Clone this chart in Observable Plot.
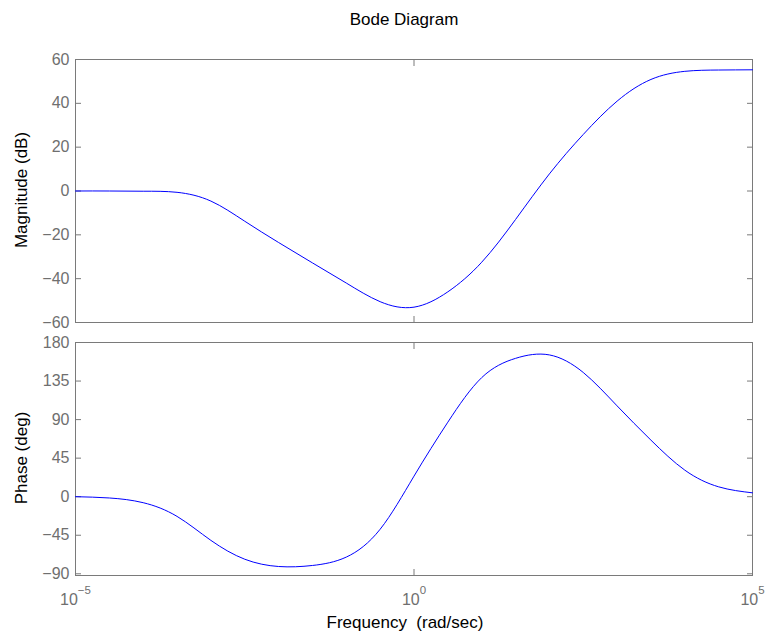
<!DOCTYPE html>
<html>
<head>
<meta charset="utf-8">
<script src="https://cdn.jsdelivr.net/npm/d3@7"></script>
<script src="https://cdn.jsdelivr.net/npm/@observablehq/plot@0.6"></script>
<style>
  html, body { margin: 0; padding: 0; background: #fff; }
  #fig { position: relative; width: 767px; height: 634px; background: #fff; overflow: hidden;
         font-family: "Liberation Sans", Arial, Helvetica, sans-serif; }
  .lbl { position: absolute; font-size: 17px; line-height: 17px; color: #000; white-space: pre; }
  .panel { position: absolute; left: 0; }
</style>
</head>
<body>
<div id="fig">
  <div class="lbl" id="title" style="left:0;width:808px;text-align:center;top:11px;">Bode Diagram</div>
  <div class="panel" id="topPanel" style="top:49px;"></div>
  <div class="panel" id="botPanel" style="top:332px;"></div>
  <div class="lbl" style="left:21px;top:190px;transform:translate(-50%,-50%) rotate(-90deg);">Magnitude (dB)</div>
  <div class="lbl" style="left:21px;top:458px;transform:translate(-50%,-50%) rotate(-90deg);">Phase (deg)</div>
  <div class="lbl" style="left:0;width:810px;text-align:center;top:614px;">Frequency  (rad/sec)</div>
</div>
<script>
// ---- data ----
// frequency as log10(rad/sec), sampled every half decade
const magLogW = [-5, -4.5, -4, -3.5, -3, -2.5, -2, -1.5, -1, -0.5, 0, 0.5, 1, 1.5, 2, 2.5, 3, 3.5, 4, 4.5, 5];
const magDb   = [0, 0, -0.1, -0.6, -4.6, -13.8, -23.5, -32.8, -42, -50.5, -53, -46, -32.5, -13, 7.8, 25.8, 41, 50.9, 54.6, 55.2, 55.3];

const phLogW = [-5, -4.5, -4, -3.5, -3, -2.5, -2, -1.5, -1, -0.5, 0, 0.5, 1, 1.5, 2, 2.5, 3, 3.5, 4, 4.5, 5];
const phDeg  = [0, -1.5, -7, -23, -51, -73, -81.5, -80.3, -70.5, -38, 24, 87, 139, 161.5, 165.5, 145, 106, 66, 31, 11.5, 4.5];

const xTickExp  = [-5, 0, 5];
const magTicks  = [-60, -40, -20, 0, 20, 40, 60];
const magDomain = [-60, 60];
const phTicks   = [-90, -45, 0, 45, 90, 135, 180];
const phDomain  = [-92, 180];

// ---- tables ----
const magData = magLogW.map((e, i) => ({w: Math.pow(10, e), v: magDb[i]}));
const phData  = phLogW.map((e, i) => ({w: Math.pow(10, e), v: phDeg[i]}));
const xTicks  = xTickExp.map(e => Math.pow(10, e));

const FONT = '"Liberation Sans", Arial, Helvetica, sans-serif';
const fmtY = d => d < 0 ? "\u2212" + (-d) : String(d);
const blank = () => "";

function panel({data, yDomain, yTicks, plotH, marginBottom, showX}) {
  return Plot.plot({
    width: 767,
    height: 10 + plotH + marginBottom,
    marginLeft: 75, marginRight: 15, marginTop: 10, marginBottom,
    style: {fontFamily: FONT, fontSize: "16px", color: "#6f6f6f", background: "transparent", overflow: "visible"},
    x: {type: "log", domain: [1e-5, 1e5]},
    y: {domain: yDomain},
    marks: [
      Plot.frame({stroke: "#7a7a7a"}),
      Plot.axisY({ticks: yTicks, anchor: "left", tickSize: -6, tickPadding: 12, tickFormat: fmtY, label: null, stroke: "#7a7a7a"}),
      Plot.axisY({ticks: yTicks, anchor: "right", tickSize: -6, tickFormat: blank, label: null, stroke: "#7a7a7a"}),
      Plot.axisX({ticks: xTicks, anchor: "bottom", tickSize: -6, tickPadding: 24,
                  tickFormat: showX ? (d => "10^" + Math.round(Math.log10(d))) : blank, label: null, stroke: "#7a7a7a"}),
      Plot.axisX({ticks: xTicks, anchor: "top", tickSize: -6, tickFormat: blank, label: null, stroke: "#7a7a7a"}),
      Plot.line(data, {x: "w", y: "v", stroke: "#0000ff", strokeWidth: 1, curve: "natural"})
    ]
  });
}

const topChart = panel({data: magData, yDomain: magDomain, yTicks: magTicks, plotH: 263, marginBottom: 10, showX: false});
const botChart = panel({data: phData, yDomain: phDomain, yTicks: phTicks, plotH: 233, marginBottom: 40, showX: true});
document.getElementById("topPanel").appendChild(topChart);
document.getElementById("botPanel").appendChild(botChart);

// superscript exponents on the x tick labels
botChart.querySelectorAll("text").forEach(t => {
  const s = t.textContent;
  if (s && s.startsWith("10^")) {
    const exp = s.slice(3).replace("-", "\u2212");
    t.textContent = "";
    const base = document.createElementNS("http://www.w3.org/2000/svg", "tspan");
    base.textContent = "10";
    const sup = document.createElementNS("http://www.w3.org/2000/svg", "tspan");
    sup.textContent = exp;
    sup.setAttribute("dy", "-10.7");
    sup.setAttribute("font-size", "11.5px");
    t.appendChild(base);
    t.appendChild(sup);
  }
});
</script>
</body>
</html>
